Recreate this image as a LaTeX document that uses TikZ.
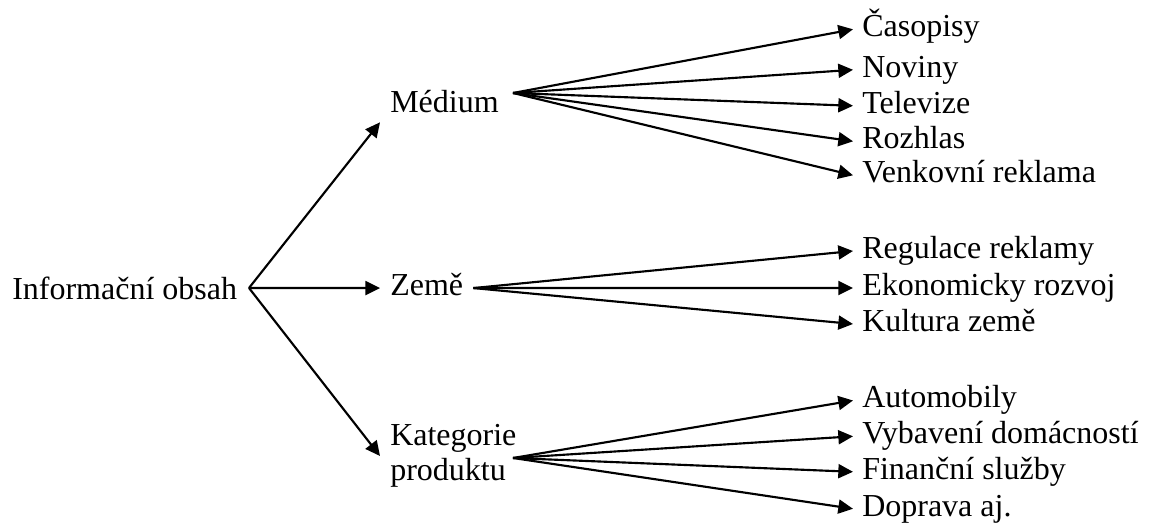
\documentclass[tikz,border=0pt]{standalone}
\usepackage{fontspec}
\setmainfont{Liberation Serif}
\usetikzlibrary{arrows.meta}
\begin{document}
\begin{tikzpicture}[x=0.75pt,y=-0.75pt,
  txt/.style={inner ysep=0pt, inner xsep=0pt, font=\fontsize{24pt}{26.25pt}\selectfont},
  fixed/.style={txt, text height=16.3pt, text depth=5.3pt},
  mid/.style={fixed, inner xsep=7.5pt, inner ysep=1.5pt, anchor=base west},
  leaf/.style={fixed, inner xsep=6.75pt, anchor=west},
  arr/.style={line width=1.6pt, -{Triangle[length=11pt,width=10.5pt]}}]
  \useasboundingbox (0,0) rectangle (1153,523);

  % root
  \node[txt, anchor=base west] (root) at (12,300) {Informační obsah};
  \coordinate (split) at (249,288);

  % second level
  \node[mid] (med) at (380,113) {Médium};
  \node[mid] (zeme) at (380,295.4) {Země};
  \node[txt, inner xsep=7.5pt, anchor=west, align=left] (kat) at (380,456) {Kategorie\\produktu};

  \coordinate (medfan) at (513,93);
  \coordinate (katfan) at (513,458);

  % leaves
  \node[leaf] (cas) at (853,29.3) {Časopisy};
  \node[leaf] (nov) at (853,69.8) {Noviny};
  \node[leaf] (tv)  at (853,105.8) {Televize};
  \node[leaf] (roz) at (853,141.3) {Rozhlas};
  \node[leaf] (ven) at (853,175.3) {Venkovní reklama};

  \node[leaf] (reg) at (853,251) {Regulace reklamy};
  \node[leaf] (eko) at (853,288) {Ekonomicky rozvoj};
  \node[leaf] (kul) at (853,324) {Kultura země};

  \node[leaf] (aut) at (853,400.5) {Automobily};
  \node[leaf] (vyb) at (853,436.3) {Vybavení domácností};
  \node[leaf] (fin) at (853,471.8) {Finanční služby};
  \node[leaf] (dop) at (853,508.8) {Doprava aj.};

  % connectors
  \draw[arr] (split) -- (med.south west);
  \draw[arr] (split) -- (zeme.west);
  \draw[arr] (split) -- (kat.west);

  \foreach \t in {cas,nov,tv,roz,ven} \draw[arr] (medfan) -- (\t.west);
  \foreach \t in {reg,eko,kul} \draw[arr] (zeme.east) -- (\t.west);
  \foreach \t in {aut,vyb,fin,dop} \draw[arr] (katfan) -- (\t.west);
\end{tikzpicture}
\end{document}
